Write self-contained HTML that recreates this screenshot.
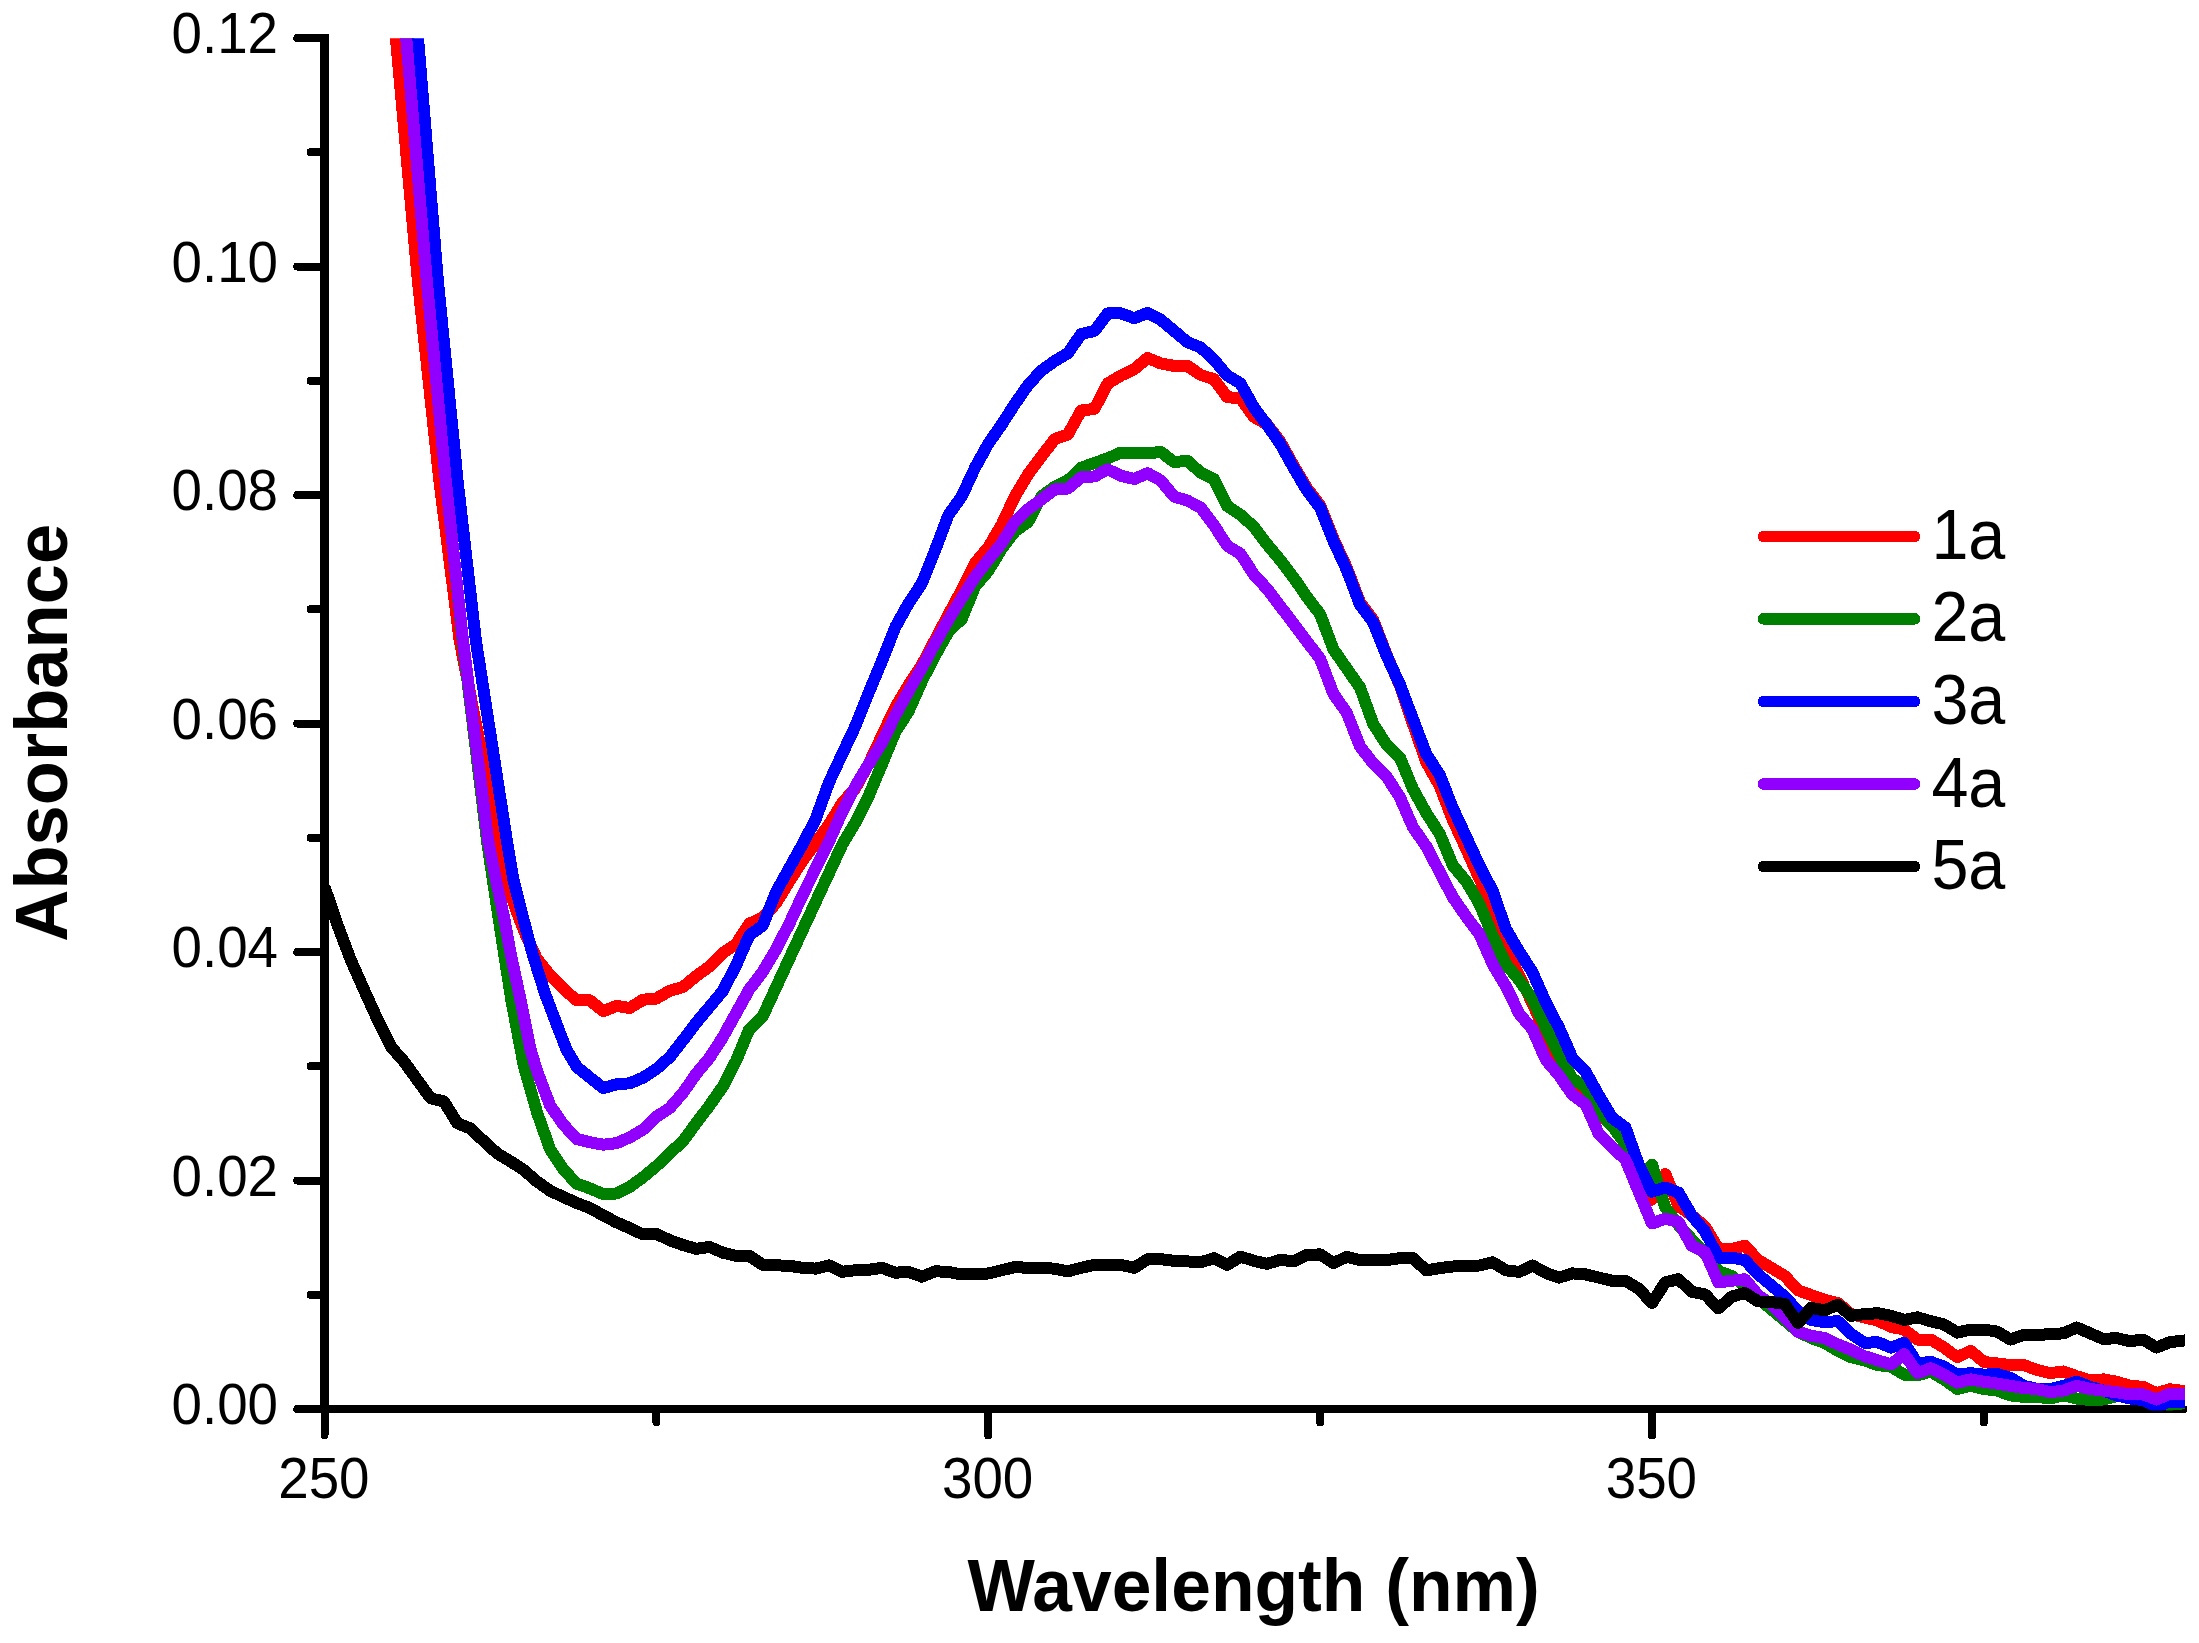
<!DOCTYPE html>
<html lang="en">
<head>
<meta charset="utf-8">
<title>Absorbance vs Wavelength</title>
<style>
html,body{margin:0;padding:0;background:#fff;}
body{width:2199px;height:1643px;overflow:hidden;}
svg{display:block;}
</style>
</head>
<body>
<svg width="2199" height="1643" viewBox="0 0 2199 1643">
<defs><clipPath id="plot"><rect x="322.4" y="38.2" width="1862.6" height="1372.3"/></clipPath></defs>
<rect width="2199" height="1643" fill="#ffffff"/>
<g stroke="#000" fill="none" shape-rendering="crispEdges">
<line x1="324.4" y1="34.1" x2="324.4" y2="1413.1" stroke-width="9"/>
<line x1="324.4" y1="1409.1" x2="2183.2" y2="1409.1" stroke-width="8.2" stroke-linecap="round"/>
</g>
<g stroke="#000" stroke-width="8.0" stroke-linecap="round" fill="none" shape-rendering="crispEdges">
<line x1="297.3" y1="1409.1" x2="324.4" y2="1409.1"/>
<line x1="297.3" y1="1180.6" x2="324.4" y2="1180.6"/>
<line x1="297.3" y1="952.1" x2="324.4" y2="952.1"/>
<line x1="297.3" y1="723.6" x2="324.4" y2="723.6"/>
<line x1="297.3" y1="495.1" x2="324.4" y2="495.1"/>
<line x1="297.3" y1="266.6" x2="324.4" y2="266.6"/>
<line x1="297.3" y1="38.1" x2="324.4" y2="38.1"/>
<line x1="310.5" y1="1294.8" x2="324.4" y2="1294.8"/>
<line x1="310.5" y1="1066.3" x2="324.4" y2="1066.3"/>
<line x1="310.5" y1="837.8" x2="324.4" y2="837.8"/>
<line x1="310.5" y1="609.3" x2="324.4" y2="609.3"/>
<line x1="310.5" y1="380.8" x2="324.4" y2="380.8"/>
<line x1="310.5" y1="152.3" x2="324.4" y2="152.3"/>
<line x1="324.5" y1="1409.1" x2="324.5" y2="1435.4"/>
<line x1="988.2" y1="1409.1" x2="988.2" y2="1435.4"/>
<line x1="1652.0" y1="1409.1" x2="1652.0" y2="1435.4"/>
<line x1="656.4" y1="1409.1" x2="656.4" y2="1422.3"/>
<line x1="1320.1" y1="1409.1" x2="1320.1" y2="1422.3"/>
<line x1="1983.9" y1="1409.1" x2="1983.9" y2="1422.3"/>
</g>
<g clip-path="url(#plot)" shape-rendering="crispEdges" fill="none" stroke-width="12" stroke-linejoin="round" stroke-linecap="butt">
<polyline stroke="#ff0000" points="392.9,5.0 395.9,38.0 418.0,282.0 439.3,480.0 459.6,640.0 498.5,840.0 503.7,865.6 509.5,891.0 518.6,916.7 526.2,935.8 536.9,958.8 550.2,975.5 563.5,988.9 576.7,1000.4 590.0,1000.4 603.3,1011.2 616.5,1005.9 629.8,1008.0 643.1,999.7 656.4,998.5 669.7,990.8 682.9,987.0 696.2,976.1 709.5,966.5 722.8,953.1 736.0,944.2 749.3,923.7 762.6,917.8 775.9,903.5 789.1,881.6 802.4,861.0 815.7,843.0 829.0,824.5 842.2,803.0 855.5,788.0 868.8,763.6 882.1,735.5 895.3,707.3 908.6,685.2 921.9,664.9 935.1,639.8 948.4,614.7 961.7,590.1 975.0,563.3 988.2,547.4 1001.5,525.1 1014.8,496.5 1028.1,474.2 1041.3,456.7 1054.6,439.2 1067.9,434.4 1081.2,410.5 1094.5,408.9 1107.7,383.5 1121.0,375.5 1134.3,369.1 1147.6,358.0 1160.8,363.4 1174.1,365.9 1187.4,365.9 1200.7,374.9 1213.9,379.3 1227.2,397.1 1240.5,398.4 1253.8,416.9 1267.0,424.3 1280.3,441.7 1293.6,465.6 1306.8,487.9 1320.1,505.4 1333.4,538.8 1346.7,567.5 1360.0,602.5 1373.2,620.0 1386.5,654.6 1399.8,685.3 1413.0,724.1 1426.3,762.1 1439.6,785.8 1452.9,820.2 1466.2,848.9 1479.4,878.5 1492.7,907.0 1506.0,950.2 1519.2,976.1 1532.5,1003.2 1545.8,1033.9 1559.1,1061.9 1572.4,1085.8 1585.6,1092.8 1598.9,1114.0 1612.2,1126.0 1625.5,1141.0 1638.7,1172.5 1652.0,1199.6 1665.3,1174.1 1678.5,1205.9 1691.8,1215.5 1705.1,1226.6 1718.4,1248.9 1731.7,1248.9 1744.9,1245.7 1758.2,1260.1 1771.5,1268.0 1784.8,1276.0 1798.0,1290.3 1811.3,1295.1 1824.6,1299.9 1837.9,1303.0 1851.1,1314.2 1864.4,1317.4 1877.7,1320.5 1891.0,1326.9 1904.2,1329.5 1917.5,1339.6 1930.8,1339.6 1944.0,1347.6 1957.3,1357.2 1970.6,1350.8 1983.9,1361.9 1997.2,1363.5 2010.4,1365.1 2023.7,1365.1 2037.0,1369.9 2050.2,1373.1 2063.5,1371.5 2076.8,1376.3 2090.1,1380.4 2103.4,1379.4 2116.6,1381.7 2129.9,1385.8 2143.2,1386.8 2156.4,1393.1 2169.7,1389.3 2183.0,1390.9 2196.3,1390.9"/>
<polyline stroke="#008000" points="405.0,5.0 408.0,38.0 428.0,282.0 446.0,480.0 462.5,640.0 486.9,840.0 498.4,916.7 511.3,1000.0 523.9,1066.5 536.9,1112.0 550.2,1149.5 563.5,1169.6 576.7,1183.6 590.0,1188.4 603.3,1194.1 616.5,1193.5 629.8,1186.8 643.1,1177.2 656.4,1166.1 669.7,1153.3 682.9,1141.2 696.2,1123.1 709.5,1105.6 722.8,1086.5 736.0,1061.0 749.3,1029.2 762.6,1016.5 775.9,987.8 789.1,959.2 802.4,930.5 815.7,901.9 829.0,873.2 842.2,844.6 855.5,822.3 868.8,795.7 882.1,763.9 895.3,732.0 908.6,711.3 921.9,681.1 935.1,655.6 948.4,631.8 961.7,619.0 975.0,586.5 988.2,571.0 1001.5,549.0 1014.8,531.5 1028.1,521.9 1041.3,496.5 1054.6,486.9 1067.9,480.5 1081.2,467.8 1094.5,463.0 1107.7,458.3 1121.0,452.5 1134.3,452.9 1147.6,453.5 1160.8,451.9 1174.1,462.1 1187.4,460.8 1200.7,472.6 1213.9,479.0 1227.2,506.0 1240.5,514.9 1253.8,526.7 1267.0,544.2 1280.3,560.1 1293.6,577.6 1306.8,596.7 1320.1,614.2 1333.4,649.3 1346.7,668.4 1360.0,687.5 1373.2,723.9 1386.5,744.6 1399.8,757.3 1413.0,789.1 1426.3,813.0 1439.6,833.7 1452.9,865.5 1466.2,881.4 1479.4,903.7 1492.7,935.6 1506.0,964.2 1519.2,980.1 1532.5,999.2 1545.8,1027.9 1559.1,1054.9 1572.4,1078.8 1585.6,1086.8 1598.9,1112.0 1612.2,1126.0 1625.5,1144.0 1638.7,1183.7 1652.0,1164.6 1665.3,1207.5 1678.5,1225.0 1691.8,1239.4 1705.1,1253.7 1718.4,1271.2 1731.7,1276.0 1744.9,1285.5 1758.2,1298.3 1771.5,1309.4 1784.8,1320.5 1798.0,1331.7 1811.3,1338.1 1824.6,1342.8 1837.9,1350.8 1851.1,1357.2 1864.4,1360.3 1877.7,1365.1 1891.0,1366.7 1904.2,1374.7 1917.5,1375.3 1930.8,1371.5 1944.0,1379.4 1957.3,1389.0 1970.6,1385.8 1983.9,1389.0 1997.2,1390.6 2010.4,1395.4 2023.7,1396.9 2037.0,1396.9 2050.2,1398.5 2063.5,1395.4 2076.8,1398.5 2090.1,1400.1 2103.4,1399.5 2116.6,1396.3 2129.9,1396.9 2143.2,1398.5 2156.4,1403.3 2169.7,1404.9 2183.0,1403.3 2196.3,1403.3"/>
<polyline stroke="#0000ff" points="415.0,5.0 418.0,38.0 438.0,282.0 457.5,480.0 475.8,640.0 506.8,840.0 513.1,878.3 522.8,916.7 532.9,955.0 545.0,993.4 559.5,1031.7 566.7,1050.0 576.7,1066.8 590.0,1077.6 603.3,1088.1 616.5,1084.3 629.8,1083.3 643.1,1077.6 656.4,1069.0 669.7,1057.2 682.9,1040.3 696.2,1022.8 709.5,1006.9 722.8,991.0 736.0,965.5 749.3,935.3 762.6,925.7 775.9,892.3 789.1,868.4 802.4,844.6 815.7,819.1 829.0,782.4 842.2,754.1 855.5,725.9 868.8,692.5 882.1,660.6 895.3,627.2 908.6,603.3 921.9,583.2 935.1,550.4 948.4,515.0 961.7,496.5 975.0,467.8 988.2,443.9 1001.5,424.8 1014.8,404.1 1028.1,385.0 1041.3,370.7 1054.6,361.2 1067.9,353.2 1081.2,334.1 1094.5,330.9 1107.7,313.4 1121.0,313.4 1134.3,318.2 1147.6,312.8 1160.8,319.8 1174.1,330.9 1187.4,342.1 1200.7,347.5 1213.9,359.6 1227.2,375.5 1240.5,383.5 1253.8,407.3 1267.0,424.8 1280.3,443.9 1293.6,467.8 1306.8,490.1 1320.1,507.6 1333.4,541.0 1346.7,569.7 1360.0,604.7 1373.2,622.2 1386.5,655.6 1399.8,684.3 1413.0,719.1 1426.3,754.1 1439.6,774.8 1452.9,808.2 1466.2,836.9 1479.4,865.5 1492.7,891.0 1506.0,929.2 1519.2,951.5 1532.5,972.2 1545.8,1002.4 1559.1,1027.9 1572.4,1058.1 1585.6,1071.8 1598.9,1095.6 1612.2,1117.9 1625.5,1127.5 1638.7,1164.6 1652.0,1191.6 1665.3,1187.5 1678.5,1192.6 1691.8,1215.5 1705.1,1231.4 1718.4,1257.5 1731.7,1257.5 1744.9,1260.1 1758.2,1274.4 1771.5,1285.5 1784.8,1296.7 1798.0,1311.0 1811.3,1319.9 1824.6,1322.1 1837.9,1321.2 1851.1,1333.9 1864.4,1342.8 1877.7,1342.2 1891.0,1347.6 1904.2,1342.8 1917.5,1363.5 1930.8,1361.9 1944.0,1366.7 1957.3,1374.7 1970.6,1373.1 1983.9,1374.7 1997.2,1374.0 2010.4,1377.8 2023.7,1385.8 2037.0,1389.0 2050.2,1389.0 2063.5,1385.8 2076.8,1381.7 2090.1,1386.8 2103.4,1390.6 2116.6,1395.4 2129.9,1398.5 2143.2,1400.1 2156.4,1406.5 2169.7,1401.7 2183.0,1401.7 2196.3,1401.7"/>
<polyline stroke="#9100ff" points="403.2,5.0 406.2,38.0 426.9,282.0 445.7,480.0 462.9,640.0 488.1,840.0 495.6,878.3 503.9,916.7 510.9,955.0 519.2,993.4 530.7,1050.0 536.9,1070.6 550.2,1105.6 563.5,1124.7 576.7,1139.0 590.0,1142.2 603.3,1144.7 616.5,1143.2 629.8,1137.4 643.1,1129.5 656.4,1116.7 669.7,1108.1 682.9,1092.9 696.2,1073.8 709.5,1057.8 722.8,1037.2 736.0,1013.3 749.3,989.4 762.6,971.9 775.9,949.6 789.1,924.1 802.4,895.5 815.7,868.4 829.0,841.4 842.2,812.0 855.5,786.1 868.8,764.0 882.1,742.5 895.3,715.3 908.6,691.2 921.9,667.9 935.1,643.3 948.4,619.7 961.7,598.1 975.0,577.0 988.2,559.9 1001.5,543.7 1014.8,521.9 1028.1,509.2 1041.3,499.6 1054.6,489.5 1067.9,488.5 1081.2,477.4 1094.5,476.4 1107.7,469.4 1121.0,475.8 1134.3,479.0 1147.6,473.2 1160.8,480.5 1174.1,496.5 1187.4,500.6 1200.7,507.6 1213.9,525.1 1227.2,545.8 1240.5,553.8 1253.8,574.5 1267.0,588.8 1280.3,606.3 1293.6,623.8 1306.8,641.3 1320.1,658.8 1333.4,693.8 1346.7,712.7 1360.0,746.2 1373.2,763.7 1386.5,776.4 1399.8,797.1 1413.0,827.3 1426.3,846.4 1439.6,871.9 1452.9,897.4 1466.2,916.5 1479.4,934.0 1492.7,964.2 1506.0,986.5 1519.2,1013.6 1532.5,1029.5 1545.8,1059.7 1559.1,1075.6 1572.4,1094.7 1585.6,1104.3 1598.9,1134.3 1612.2,1147.1 1625.5,1159.8 1638.7,1191.6 1652.0,1223.5 1665.3,1218.7 1678.5,1221.9 1691.8,1245.7 1705.1,1252.1 1718.4,1282.3 1731.7,1280.8 1744.9,1279.2 1758.2,1295.1 1771.5,1304.6 1784.8,1317.4 1798.0,1331.7 1811.3,1335.8 1824.6,1338.1 1837.9,1344.4 1851.1,1349.8 1864.4,1356.2 1877.7,1360.3 1891.0,1364.5 1904.2,1354.0 1917.5,1373.1 1930.8,1368.3 1944.0,1374.7 1957.3,1382.6 1970.6,1379.4 1983.9,1381.7 1997.2,1383.6 2010.4,1385.8 2023.7,1388.0 2037.0,1389.0 2050.2,1392.2 2063.5,1390.6 2076.8,1385.8 2090.1,1389.0 2103.4,1390.6 2116.6,1392.2 2129.9,1394.4 2143.2,1394.4 2156.4,1399.5 2169.7,1393.8 2183.0,1394.4 2196.3,1394.4"/>
<polyline stroke="#000000" points="324.5,886.6 337.8,925.7 351.1,960.8 364.3,990.4 377.6,1019.6 390.9,1046.7 404.1,1061.7 417.4,1080.1 430.7,1098.3 444.0,1101.5 457.2,1123.1 470.5,1128.5 483.8,1141.2 497.1,1153.3 510.4,1161.3 523.6,1169.9 536.9,1181.4 550.2,1190.9 563.5,1197.0 576.7,1203.0 590.0,1208.1 603.3,1215.4 616.5,1222.4 629.8,1228.1 643.1,1234.5 656.4,1233.9 669.7,1240.2 682.9,1245.0 696.2,1248.8 709.5,1246.9 722.8,1252.7 736.0,1255.8 749.3,1255.8 762.6,1264.8 775.9,1265.4 789.1,1265.7 802.4,1267.9 815.7,1268.6 829.0,1265.4 842.2,1271.8 855.5,1270.2 868.8,1269.8 882.1,1267.9 895.3,1272.7 908.6,1271.9 921.9,1276.7 935.1,1271.3 948.4,1271.9 961.7,1274.4 975.0,1273.5 988.2,1273.5 1001.5,1270.3 1014.8,1267.1 1028.1,1267.8 1041.3,1267.8 1054.6,1268.7 1067.9,1271.3 1081.2,1267.8 1094.5,1264.9 1107.7,1264.9 1121.0,1264.9 1134.3,1267.8 1147.6,1259.2 1160.8,1259.2 1174.1,1260.8 1187.4,1261.4 1200.7,1262.3 1213.9,1258.2 1227.2,1264.9 1240.5,1256.6 1253.8,1260.8 1267.0,1263.9 1280.3,1259.8 1293.6,1261.4 1306.8,1255.0 1320.1,1254.4 1333.4,1263.0 1346.7,1256.9 1360.0,1260.1 1373.2,1260.1 1386.5,1260.1 1399.8,1258.2 1413.0,1258.2 1426.3,1270.3 1439.6,1268.1 1452.9,1266.5 1466.2,1265.5 1479.4,1265.5 1492.7,1262.3 1506.0,1270.3 1519.2,1271.9 1532.5,1265.5 1545.8,1272.9 1559.1,1277.6 1572.4,1273.4 1585.6,1274.4 1598.9,1277.6 1612.2,1280.8 1625.5,1280.8 1638.7,1288.7 1652.0,1303.0 1665.3,1282.3 1678.5,1279.2 1691.8,1291.9 1705.1,1294.4 1718.4,1308.4 1731.7,1296.7 1744.9,1292.9 1758.2,1301.4 1771.5,1302.1 1784.8,1304.0 1798.0,1323.1 1811.3,1307.8 1824.6,1310.4 1837.9,1304.6 1851.1,1315.8 1864.4,1314.2 1877.7,1313.2 1891.0,1315.8 1904.2,1319.9 1917.5,1317.4 1930.8,1321.2 1944.0,1324.4 1957.3,1332.6 1970.6,1329.5 1983.9,1329.5 1997.2,1331.7 2010.4,1339.6 2023.7,1334.9 2037.0,1334.9 2050.2,1334.2 2063.5,1333.3 2076.8,1327.5 2090.1,1333.3 2103.4,1339.0 2116.6,1338.1 2129.9,1341.2 2143.2,1339.6 2156.4,1347.6 2169.7,1342.2 2183.0,1340.6 2196.3,1339.6"/>
</g>
<g font-family="'Liberation Sans', sans-serif" fill="#000">
<text transform="translate(278.0,1424.3) scale(0.9600,1)" font-size="57.0" text-anchor="end">0.00</text>
<text transform="translate(278.0,1195.8) scale(0.9600,1)" font-size="57.0" text-anchor="end">0.02</text>
<text transform="translate(278.0,967.3) scale(0.9600,1)" font-size="57.0" text-anchor="end">0.04</text>
<text transform="translate(278.0,738.8) scale(0.9600,1)" font-size="57.0" text-anchor="end">0.06</text>
<text transform="translate(278.0,510.3) scale(0.9600,1)" font-size="57.0" text-anchor="end">0.08</text>
<text transform="translate(278.0,281.8) scale(0.9600,1)" font-size="57.0" text-anchor="end">0.10</text>
<text transform="translate(278.0,53.3) scale(0.9600,1)" font-size="57.0" text-anchor="end">0.12</text>
<text transform="translate(323.9,1497.7) scale(0.9600,1)" font-size="57.0" text-anchor="middle">250</text>
<text transform="translate(987.6,1497.7) scale(0.9600,1)" font-size="57.0" text-anchor="middle">300</text>
<text transform="translate(1651.4,1497.7) scale(0.9600,1)" font-size="57.0" text-anchor="middle">350</text>
<text transform="translate(1253.7,1610.8) scale(0.9580,1)" font-size="74.5" text-anchor="middle" font-weight="bold">Wavelength (nm)</text>
<text transform="translate(66.7,732.8) rotate(-90) scale(0.9710,1)" font-size="74.5" text-anchor="middle" font-weight="bold">Absorbance</text>
</g>
<g stroke-width="11.6" stroke-linecap="round" fill="none" shape-rendering="crispEdges">
<line x1="1763.5" y1="536.4" x2="1914.5" y2="536.4" stroke="#ff0000"/>
<line x1="1763.5" y1="618.9" x2="1914.5" y2="618.9" stroke="#008000"/>
<line x1="1763.5" y1="701.5" x2="1914.5" y2="701.5" stroke="#0000ff"/>
<line x1="1763.5" y1="784.0" x2="1914.5" y2="784.0" stroke="#9100ff"/>
<line x1="1763.5" y1="866.6" x2="1914.5" y2="866.6" stroke="#000000"/>
</g>
<g font-family="'Liberation Sans', sans-serif" fill="#000">
<text transform="translate(1931.4,558.9) scale(0.9470,1)" font-size="70.2" text-anchor="start">1a</text>
<text transform="translate(1931.4,641.4) scale(0.9470,1)" font-size="70.2" text-anchor="start">2a</text>
<text transform="translate(1931.4,724.0) scale(0.9470,1)" font-size="70.2" text-anchor="start">3a</text>
<text transform="translate(1931.4,806.5) scale(0.9470,1)" font-size="70.2" text-anchor="start">4a</text>
<text transform="translate(1931.4,889.1) scale(0.9470,1)" font-size="70.2" text-anchor="start">5a</text>
</g>
</svg>
</body>
</html>
